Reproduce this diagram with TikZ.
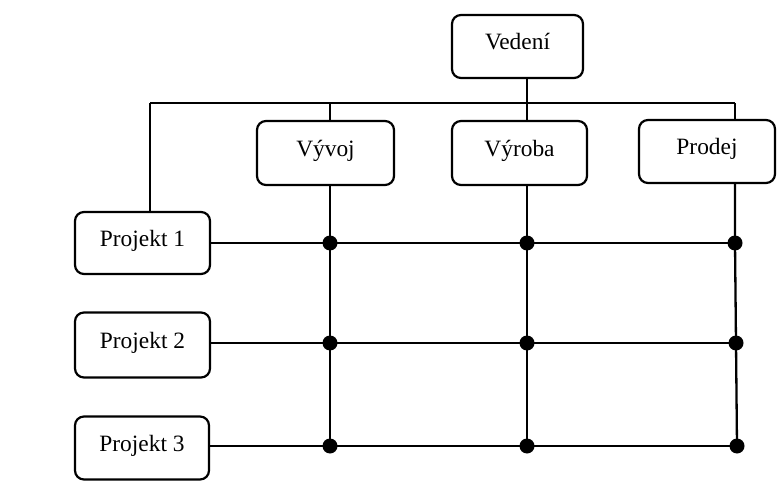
\documentclass[tikz,border=0pt]{standalone}
\usepackage{fontspec}
\setmainfont{Liberation Serif}
\begin{document}
\begin{tikzpicture}[x=1pt,y=-1pt,
  unit/.style={draw,line width=2.2pt,rounded corners=9pt,inner sep=0pt,
    text height=16pt,text depth=9.6pt,
    font=\fontsize{23.4}{28}\selectfont},
  wire/.style={line width=2.3pt},
  junction/.style={circle,fill=black,inner sep=0pt,minimum size=15pt}]
\useasboundingbox (0,0) rectangle (779,481);

% management and departments
\node[unit,minimum width=131pt,minimum height=63pt] (ved) at (517.5,46.5) {Vedení};
\node[unit,minimum width=137pt,minimum height=64pt] (vyv) at (325.5,153) {Vývoj};
\node[unit,minimum width=135pt,minimum height=64pt] (vyr) at (519.5,153) {Výroba};
\node[unit,minimum width=136pt,minimum height=63pt] (pro) at (707,151.5) {Prodej};

% projects
\node[unit,minimum width=135pt,minimum height=62pt] (p1) at (142.5,243) {Projekt 1};
\node[unit,minimum width=135pt,minimum height=65pt] (p2) at (142.5,345) {Projekt 2};
\node[unit,minimum width=134pt,minimum height=63pt] (p3) at (142,448) {Projekt 3};

% distribution bar
\coordinate (b0) at (150,103);
\coordinate (b1) at (330,103);
\coordinate (b2) at (527,103);
\coordinate (b3) at (735,103);

% matrix junctions
\coordinate (j11) at (330,243);
\coordinate (j12) at (527,243);
\coordinate (j13) at (735,243);
\coordinate (j21) at (330,343);
\coordinate (j22) at (527,343);
\coordinate (j23) at (736,343);
\coordinate (j31) at (330,446);
\coordinate (j32) at (527,446);
\coordinate (j33) at (737,446);

% bar and its branches
\draw[wire] (b0) -- (b3);
\draw[wire] (b2) -- (b2 |- ved.south);
\draw[wire] (b0) -- (b0 |- p1.north);
\draw[wire] (b1) -- (b1 |- vyv.north);
\draw[wire] (b2) -- (b2 |- vyr.north);
\draw[wire] (b3) -- (b3 |- pro.north);

% department columns
\draw[wire] (j11 |- vyv.south) -- (j31);
\draw[wire] (j12 |- vyr.south) -- (j32);
\draw[wire] (j13 |- pro.south) -- (j13) -- (j23) -- (j33);

% project rows
\draw[wire] (p1.east |- j11) -- (j13);
\draw[wire] (p2.east |- j21) -- (j23);
\draw[wire] (p3.east |- j31) -- (j33);

% junction dots
\foreach \j in {j11,j12,j13,j21,j22,j23,j31,j32,j33}
  \node[junction] at (\j) {};
\end{tikzpicture}
\end{document}
